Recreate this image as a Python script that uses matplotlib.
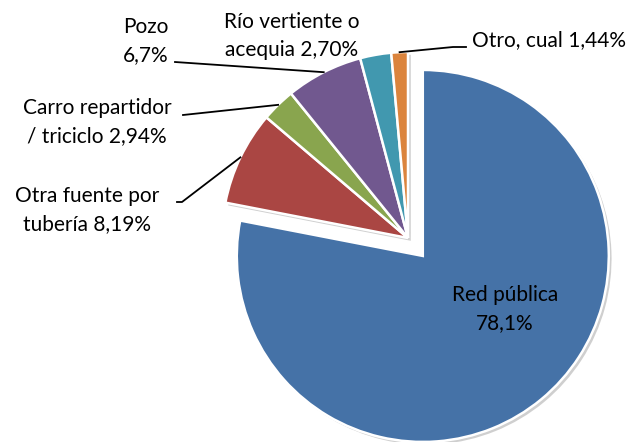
import numpy as np
import matplotlib
matplotlib.use('Agg')
import matplotlib.pyplot as plt
import matplotlib.patheffects as pe

# datos de la fuente de agua
categorias = ['Red pública', 'Otra fuente por\ntubería', 'Carro repartidor\n/ triciclo',
              'Pozo', 'Río vertiente o\nacequia', 'Otro, cual']
valores = [78.1, 8.19, 2.94, 6.7, 2.70, 1.44]
etiquetas = ['Red pública\n78,1%', 'Otra fuente por\ntubería 8,19%',
             'Carro repartidor\n/ triciclo 2,94%', 'Pozo\n6,7%',
             'Río vertiente o\nacequia 2,70%', 'Otro, cual 1,44%']
colores = ['#4572A7', '#AA4643', '#89A54E', '#71588F', '#4198AF', '#DB843D']

W, H = 634, 442
R = 186.0          # radio en pixeles
cx, cy = 408, 238  # centro del pastel en pixeles


def px(x, y):
    # pixel de la imagen -> coordenadas de datos
    return (x - cx) / R, (cy - y) / R


plt.rcParams['font.family'] = ['Lato', 'DejaVu Sans']
fig = plt.figure(figsize=(W / 100, H / 100), dpi=100)
ax = fig.add_axes([0, 0, 1, 1])

wedges, _ = ax.pie(valores, startangle=90, counterclock=False,
                   explode=[0.125, 0, 0, 0, 0, 0], colors=colores,
                   wedgeprops=dict(edgecolor='white', linewidth=1.8))
for w in wedges:
    w.set_path_effects([pe.SimplePatchShadow(offset=(2, -2), shadow_rgbFace='#777777', alpha=0.35),
                        pe.Normal()])

x0, y0 = px(0, H)
x1, y1 = px(W, 0)
ax.set_xlim(x0, x1)
ax.set_ylim(y0, y1)
ax.set_aspect('equal')
ax.axis('off')

fs = 15
# posicion de cada etiqueta (pixeles) y punto final de la linea guia
pos_texto = [(505, 309), (87, 210), (97, 122), (146, 41), (292, 36), (549, 40)]
guia = [None, [(182, 202), (177, 202)], [(183, 115)], [(175, 62)], None,
        [(453, 47), (466, 47)]]

for i, w in enumerate(wedges):
    tx, ty = px(*pos_texto[i])
    ax.text(tx, ty, etiquetas[i], ha='center', va='center', fontsize=fs,
            color='black', linespacing=1.55)
    if guia[i] is not None:
        ang = np.deg2rad((w.theta1 + w.theta2) / 2)
        xs = [np.cos(ang)]
        ys = [np.sin(ang)]
        for p in guia[i]:
            a, b = px(*p)
            xs.append(a)
            ys.append(b)
        ax.plot(xs, ys, color='black', lw=1.3)

fig.savefig('out.png', dpi=100, facecolor='white')
